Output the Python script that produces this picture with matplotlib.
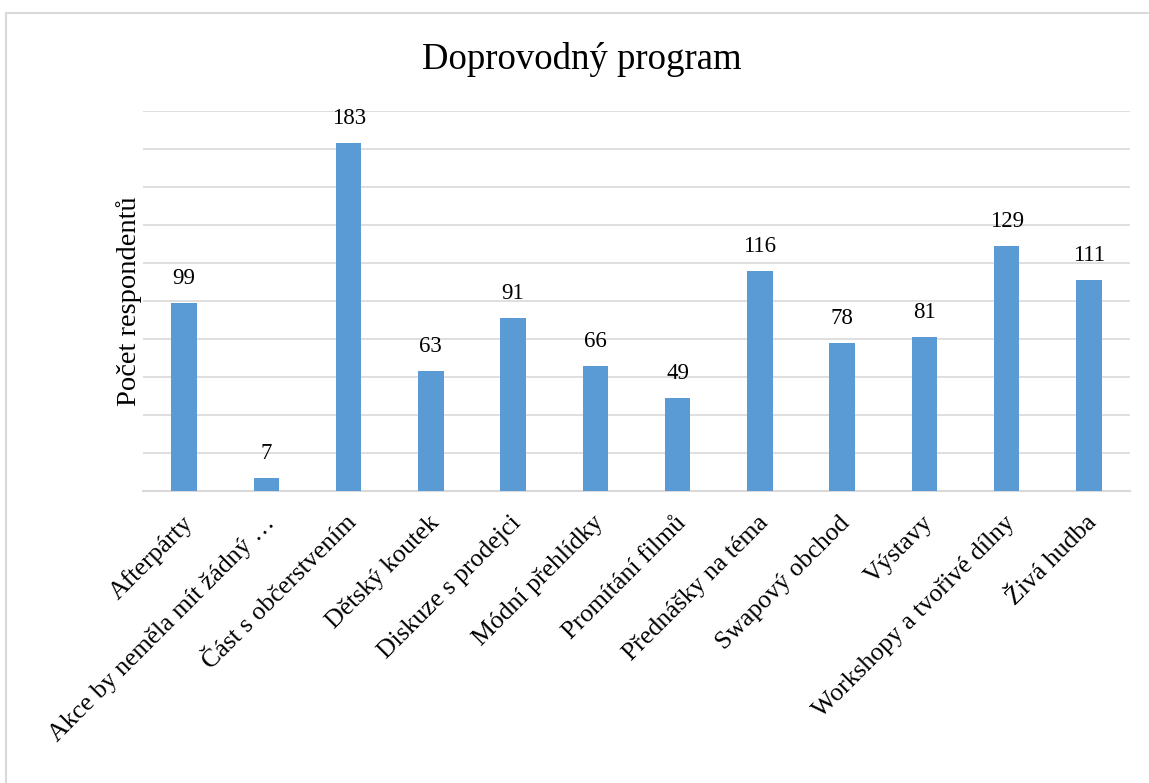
import matplotlib.pyplot as plt
from matplotlib.patches import Rectangle
from matplotlib.transforms import ScaledTranslation

categories = ["Afterpárty", "Akce by neměla mít žádný …", "Část s občerstvením",
              "Dětský koutek", "Diskuze s prodejci", "Módní přehlídky",
              "Promítání filmů", "Přednášky na téma", "Swapový obchod",
              "Výstavy", "Workshopy a tvořivé dílny", "Živá hudba"]
values = [99, 7, 183, 63, 91, 66, 49, 116, 78, 81, 129, 111]

plt.rcParams['font.family'] = ['Liberation Serif', 'DejaVu Serif']

fig = plt.figure(figsize=(11.49, 7.83), dpi=100)
ax = fig.add_axes([143/1149, 1 - 491/783, (1130-143)/1149, (491-111)/783])

x = range(len(categories))
ax.bar(x, values, width=0.31, color='#5B9BD5', zorder=3)
for xi, v in zip(x, values):
    ax.annotate(str(v), (xi, v), xytext=(0, 10), textcoords='offset points',
                ha='center', va='bottom', fontsize=16.5)

ax.set_ylim(0, 200)
ax.set_xlim(-0.5, len(categories) - 0.5)
ax.set_yticks(range(0, 201, 20))
ax.set_yticklabels([])
ax.tick_params(axis='y', length=0, pad=0)
ax.tick_params(axis='x', length=0, pad=15)
ax.grid(axis='y', color='#D9D9D9', linewidth=1.2, zorder=0)
for s in ['top', 'right', 'left']:
    ax.spines[s].set_visible(False)
ax.spines['bottom'].set_color('#D9D9D9')
ax.spines['bottom'].set_linewidth(1.5)

ax.set_xticks(list(x))
ax.set_xticklabels(categories, rotation=45, ha='right', rotation_mode='anchor', fontsize=18.5)
shift = ScaledTranslation(-3/100, 0, fig.dpi_scale_trans)
for lbl in ax.get_xticklabels():
    lbl.set_transform(lbl.get_transform() + shift)

ax.set_ylabel("Počet respondentů", fontsize=20.5, labelpad=1)
fig.text(582/1149, 1 - 69/783, "Doprovodný program",
         fontsize=26.5, ha='center', va='baseline')

fig.patches.append(Rectangle((6/1149, -0.1), 1.2, 1 - 13/783 + 0.1, transform=fig.transFigure,
                             fill=False, edgecolor='#D9D9D9', linewidth=1.5))

fig.savefig('out.png', dpi=100)
